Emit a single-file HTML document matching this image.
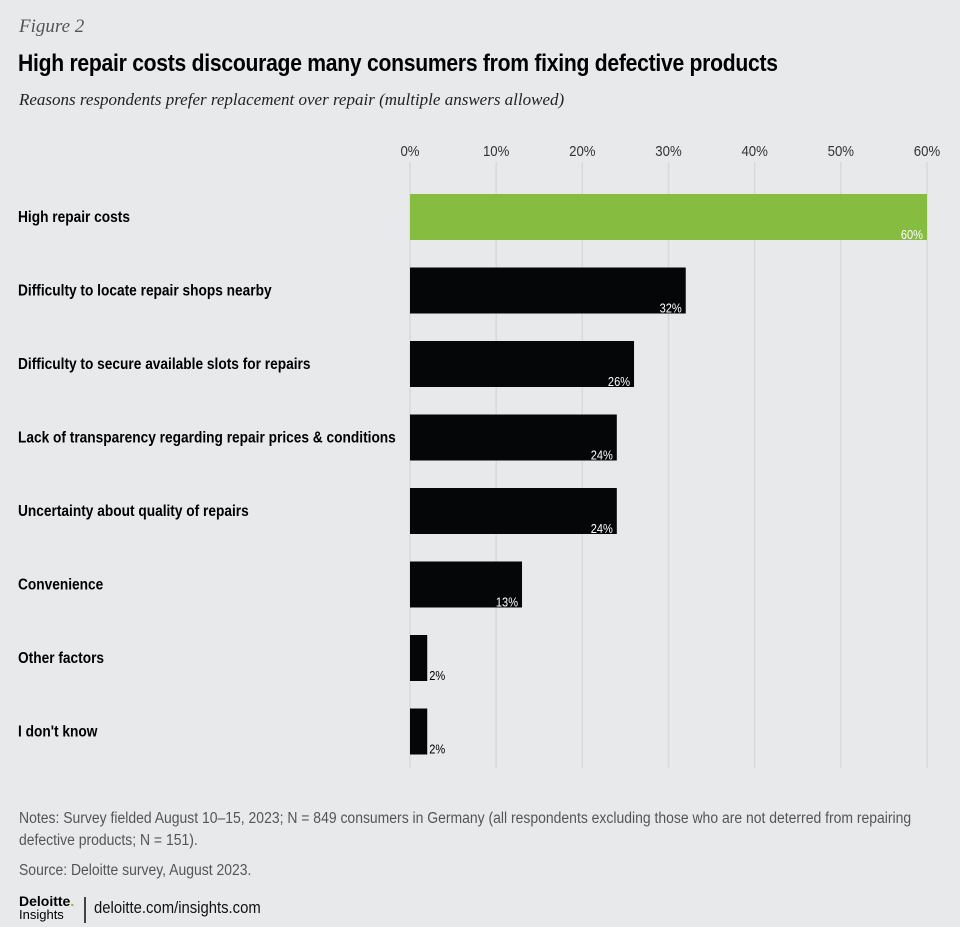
<!DOCTYPE html>
<html><head><meta charset="utf-8"><style>
body{margin:0;background:#e8e9eb;width:960px;height:927px;overflow:hidden;position:relative;font-family:"Liberation Sans",sans-serif}
.abs{position:absolute;white-space:nowrap;transform-origin:0 0}
</style></head><body>
<div class="abs" style="left:19px;top:16px;font:italic 19px 'Liberation Serif',serif;color:#555">Figure 2</div>
<div class="abs" style="left:18px;top:50px;font:bold 24px 'Liberation Sans',sans-serif;color:#000;letter-spacing:-0.3px;transform:scaleX(0.88)">High repair costs discourage many consumers from fixing defective products</div>
<div class="abs" style="left:19px;top:90px;font:italic 17px 'Liberation Serif',serif;color:#222">Reasons respondents prefer replacement over repair (multiple answers allowed)</div>
<svg id="chart" class="abs" style="left:0;top:0" width="960" height="800"></svg>
<div class="abs" style="left:19px;top:808px;font:15.5px 'Liberation Sans',sans-serif;color:#555;line-height:22px;transform:scaleX(0.9)">Notes: Survey fielded August 10–15, 2023; N = 849 consumers in Germany (all respondents excluding those who are not deterred from repairing<br>defective products; N = 151).</div>
<div class="abs" style="left:19px;top:862px;font:15.5px 'Liberation Sans',sans-serif;color:#555;transform:scaleX(0.9)">Source: Deloitte survey, August 2023.</div>
<div class="abs" style="left:19px;top:895px;font:bold 14px 'Liberation Sans',sans-serif;color:#000;line-height:13px">Deloitte<span style="color:#86bc25">.</span><br><span style="font-weight:normal;font-size:13px">Insights</span></div>
<div class="abs" style="left:84px;top:897px;width:2px;height:26px;background:#444"></div>
<div class="abs" style="left:94px;top:899px;font:16.5px 'Liberation Sans',sans-serif;color:#111;transform:scaleX(0.9)">deloitte.com/insights.com</div>
<script>
const categories=["High repair costs","Difficulty to locate repair shops nearby","Difficulty to secure available slots for repairs","Lack of transparency regarding repair prices & conditions","Uncertainty about quality of repairs","Convenience","Other factors","I don't know"];
const values=[60,32,26,24,24,13,2,2];
const ticks=[0,10,20,30,40,50,60];
const tickLabels=["0%","10%","20%","30%","40%","50%","60%"];
const svg=document.getElementById('chart');
const NS='http://www.w3.org/2000/svg';
const x=v=>410+v*(517/60);
const y=i=>194+i*73.5;
function mk(t,a){const e=document.createElementNS(NS,t);for(const k in a)e.setAttribute(k,a[k]);svg.appendChild(e);return e;}
ticks.forEach((t,i)=>{
 const g=mk('line',{x1:x(t),x2:x(t),y1:162,y2:768,stroke:'#d8d9db','stroke-width':1.5});
 
 
 const l=mk('text',{x:x(t),y:156,'text-anchor':'middle','font-family':'Liberation Sans, sans-serif','font-size':15,fill:'#333',transform:`translate(${x(t)},0) scale(0.88,1) translate(${-x(t)},0)`});
 l.textContent=tickLabels[i];
 
 
});
categories.forEach((c,i)=>{
 const yy=y(i);
 const lab=mk('text',{x:18,y:yy+28,'font-family':'Liberation Sans, sans-serif','font-weight':'bold','font-size':15.5,fill:'#000',transform:'translate(18,0) scale(0.885,1) translate(-18,0)'});
 lab.textContent=c;
 
 
 const b=mk('rect',{x:x(0),y:yy,width:x(values[i])-x(0),height:46,fill:i==0?'#86bc40':'#050607'});
 
 
 const inside=values[i]>=5;
 const vx=inside?x(values[i])-4:x(values[i])+2;
 const v=mk('text',{x:vx,y:yy+45,'text-anchor':inside?'end':'start','font-family':'Liberation Sans, sans-serif','font-size':13,fill:inside?'#fff':'#000',transform:`translate(${vx},0) scale(0.85,1) translate(${-vx},0)`});
 v.textContent=values[i]+'%';
 
 
});
</script>
</body></html>
